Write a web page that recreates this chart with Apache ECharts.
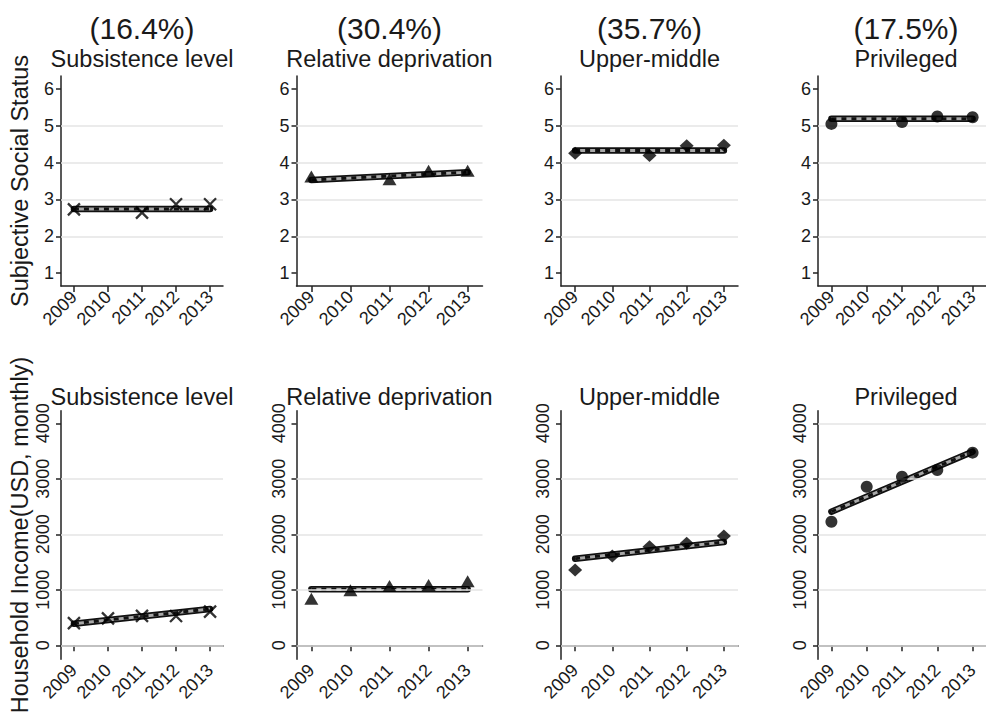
<!DOCTYPE html>
<html>
<head>
<meta charset="utf-8">
<script src="https://cdn.jsdelivr.net/npm/echarts@6/dist/echarts.min.js"></script>
<style>
html,body{margin:0;padding:0;background:#fff;}
#c{width:986px;height:714px;}
</style>
</head>
<body>
<div id="c"></div>
<script>
// ---- data ----
const years = [2009, 2010, 2011, 2012, 2013];
const fitYears = [2009, 2013];
const groups = ['Subsistence level', 'Relative deprivation', 'Upper-middle', 'Privileged'];
const shares = ['(16.4%)', '(30.4%)', '(35.7%)', '(17.5%)'];
const rowTitles = ['Subjective Social Status', 'Household Income(USD, monthly)'];

const sssSubsistence = [2.73, null, 2.64, 2.87, 2.87];
const sssRelative    = [3.62, null, 3.55, 3.78, 3.78];
const sssUpper       = [4.25, null, 4.19, 4.46, 4.47];
const sssPrivileged  = [5.05, null, 5.10, 5.25, 5.23];

const sssFitSubsistence = [2.74, 2.74];
const sssFitRelative    = [3.53, 3.74];
const sssFitUpper       = [4.33, 4.33];
const sssFitPrivileged  = [5.19, 5.19];

const incSubsistence = [400, 486, 530, 528, 606];
const incRelative    = [840, 990, 1070, 1085, 1155];
const incUpper       = [1357, 1609, 1777, 1838, 1969];
const incPrivileged  = [2227, 2858, 3038, 3159, 3471];

const incFitSubsistence = [390, 655];
const incFitRelative    = [1010, 1010];
const incFitUpper       = [1561, 1861];
const incFitPrivileged  = [2408, 3489];

const sssTicks = [1, 2, 3, 4, 5, 6];
const incTicks = [0, 1000, 2000, 3000, 4000];
const sssGridVals = [2, 3, 4, 5];
const incGridVals = [[0, 1000, 2000, 3000], [0, 1000, 2000, 3000], [0, 1000, 2000, 3000], [0, 1000, 2000, 3000, 4000]];

// ---- layout ----
const FONT = 'Liberation Sans, Arial, sans-serif';
const TXT = '#1a1a1a';
const cols = [
  {left: 61, width: 162},
  {left: 296.5, width: 186},
  {left: 561, width: 177},
  {left: 818, width: 176}
];
const rows = [
  {top: 76, height: 210, min: 0.65, max: 6.35, ticks: sssTicks, rot: 0, margin: 7},
  {top: 410.7, height: 248.6, min: -252, max: 4227, ticks: incTicks, rot: 90, margin: 9}
];
const symbols = [
  {symbol: 'path://M0 0L10 10M10 0L0 10', size: 12, style: {color: 'rgba(0,0,0,0)', borderColor: '#000', borderWidth: 2.3}},
  {symbol: 'triangle', size: [14, 12], style: {color: '#000'}},
  {symbol: 'diamond', size: [14, 13], style: {color: '#000'}},
  {symbol: 'circle', size: 12, style: {color: '#000'}}
];
const obsData = [[sssSubsistence, sssRelative, sssUpper, sssPrivileged], [incSubsistence, incRelative, incUpper, incPrivileged]];
const fitData = [[sssFitSubsistence, sssFitRelative, sssFitUpper, sssFitPrivileged], [incFitSubsistence, incFitRelative, incFitUpper, incFitPrivileged]];

const grid = [], xAxis = [], yAxis = [], series = [], graphic = [];
let k = 0;
for (let r = 0; r < 2; r++) {
  for (let c = 0; c < 4; c++) {
    const R = rows[r], C = cols[c];
    grid.push({left: C.left, top: R.top, width: C.width, height: R.height, containLabel: false});
    xAxis.push({
      type: 'value', gridIndex: k, min: 2008.62, max: 2013.38,
      axisLine: {show: true, lineStyle: {color: '#222', width: 1.5}},
      axisTick: {show: true, length: 6, customValues: years, lineStyle: {color: '#222', width: 1.5}},
      axisLabel: {customValues: years, rotate: 45, fontSize: 18, fontFamily: FONT, color: TXT, margin: 8, formatter: v => String(v)},
      splitLine: {show: false}
    });
    yAxis.push({
      type: 'value', gridIndex: k, min: R.min, max: R.max,
      axisLine: {show: true, lineStyle: {color: '#222', width: 1.5}},
      axisTick: {show: true, length: 5, customValues: R.ticks, lineStyle: {color: '#222', width: 1.5}},
      axisLabel: {customValues: R.ticks, rotate: R.rot, fontSize: 18, fontFamily: FONT, color: TXT, margin: R.margin, formatter: v => String(v)},
      splitLine: {show: false}
    });
    const fit = fitData[r][c].map((v, i) => [fitYears[i], v]);
    const gridVals = r === 0 ? sssGridVals : incGridVals[c];
    series.push({
      type: 'line', xAxisIndex: k, yAxisIndex: k, data: fit, showSymbol: false, z: 1,
      lineStyle: {opacity: 0}, silent: true,
      markLine: {silent: true, symbol: 'none', label: {show: false},
        lineStyle: {color: '#e4e4e4', width: 1.5, type: 'solid'},
        data: gridVals.map(v => ({yAxis: v}))}
    });
    series.push({type: 'line', xAxisIndex: k, yAxisIndex: k, data: fit, showSymbol: false, z: 2,
      lineStyle: {color: '#111', width: 6.5, cap: 'round'}});
    series.push({type: 'line', xAxisIndex: k, yAxisIndex: k, data: fit, showSymbol: false, z: 3,
      lineStyle: {color: '#a8a8a8', width: 3}});
    series.push({type: 'line', xAxisIndex: k, yAxisIndex: k, data: fit, showSymbol: false, z: 4,
      lineStyle: {color: '#111', width: 3, type: [5, 5]}});
    const S = symbols[c];
    series.push({
      type: 'scatter', xAxisIndex: k, yAxisIndex: k, z: 5,
      data: years.map((y, i) => obsData[r][c][i] == null ? null : [y, obsData[r][c][i]]).filter(d => d),
      symbol: S.symbol, symbolSize: S.size, itemStyle: S.style
    });
    const cx = C.left + C.width / 2;
    if (r === 0) {
      graphic.push({type: 'text', x: cx, y: 28, style: {text: shares[c], font: '30px ' + FONT, fill: TXT, textAlign: 'center', textVerticalAlign: 'middle'}});
      graphic.push({type: 'text', x: cx, y: 59, style: {text: groups[c], font: '23.5px ' + FONT, fill: TXT, textAlign: 'center', textVerticalAlign: 'middle'}});
    } else {
      graphic.push({type: 'text', x: cx, y: 397, style: {text: groups[c], font: '23.5px ' + FONT, fill: TXT, textAlign: 'center', textVerticalAlign: 'middle'}});
    }
    k++;
  }
}
graphic.push({type: 'text', x: 20, y: 181, rotation: Math.PI / 2, style: {text: rowTitles[0], font: '23.5px ' + FONT, fill: TXT, textAlign: 'center', textVerticalAlign: 'middle'}});
graphic.push({type: 'text', x: 20, y: 535, rotation: Math.PI / 2, style: {text: rowTitles[1], font: '23.5px ' + FONT, fill: TXT, textAlign: 'center', textVerticalAlign: 'middle'}});

const chart = echarts.init(document.getElementById('c'), null, {renderer: 'svg'});
chart.setOption({animation: false, backgroundColor: '#fff', grid, xAxis, yAxis, series, graphic});
</script>
</body>
</html>
